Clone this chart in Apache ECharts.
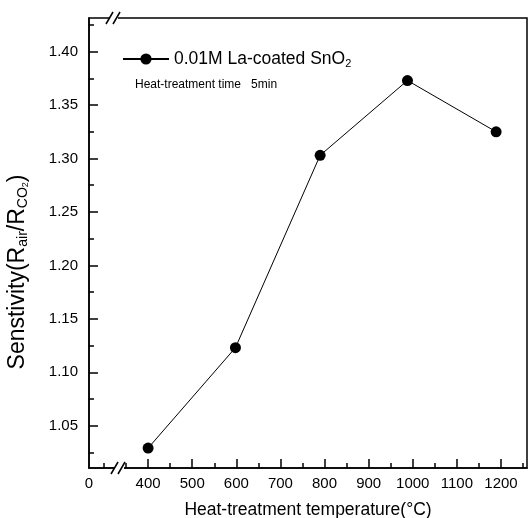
<!DOCTYPE html>
<html><head><meta charset="utf-8">
<script src="https://cdn.jsdelivr.net/npm/echarts@6/dist/echarts.min.js"></script>
<style>html,body{margin:0;padding:0;background:#fff}#c{width:530px;height:518px}</style>
</head><body><div id="c"></div>
<script>
// ---- data ----
const temperatures = [400, 598, 790, 988, 1189];
const sensitivity = [1.029, 1.123, 1.303, 1.373, 1.325];
const xMajorTicks = [400, 500, 600, 700, 800, 900, 1000, 1100, 1200];
const xMinorTicks = [300, 350, 450, 550, 650, 750, 850, 950, 1050, 1150, 1250];
const yMajorTicks = [1.05, 1.10, 1.15, 1.20, 1.25, 1.30, 1.35, 1.40];
const yMinorTicks = [1.025, 1.075, 1.125, 1.175, 1.225, 1.275, 1.325, 1.375, 1.425];
const xRange = [266, 1259];
const yRange = [1.0104, 1.4315];
const xOriginLabel = '0';
const seriesName = '0.01M La-coated SnO2';
const noteText = 'Heat-treatment time   5min';

// ---- layout ----
const FONT = "'Liberation Sans', Arial, sans-serif";
const G = {left: 89, right: 3, top: 18, bottom: 50};
const W = 530, H = 518;
const gx0 = G.left, gx1 = W - G.right, gy0 = G.top, gy1 = H - G.bottom;

const chart = echarts.init(document.getElementById('c'), null, {renderer: 'canvas'});
const data = temperatures.map((t, i) => [t, sensitivity[i]]);

const axisLineStyle = {color: '#000', width: 1.5};

chart.setOption({
  animation: false,
  backgroundColor: '#fff',
  grid: {left: G.left, right: G.right, top: G.top, bottom: G.bottom, show: true,
         containLabel: false, outerBoundsMode: 'none',
         borderColor: '#000', borderWidth: 1.5, backgroundColor: 'transparent'},
  title: {text: noteText, left: 135, top: 79, padding: 0,
          textStyle: {fontFamily: FONT, fontSize: 12, fontWeight: 'normal', color: '#000'}},
  legend: {left: 122, top: 50, padding: 0, itemWidth: 46, itemHeight: 14, itemGap: 0,
           data: [seriesName],
           formatter: () => '0.01M La-coated SnO{s|2}',
           textStyle: {fontFamily: FONT, fontSize: 17.5, color: '#000',
                       rich: {s: {fontFamily: FONT, fontSize: 11, verticalAlign: 'bottom', padding: [9,0,0,0]}}}},
  xAxis: [{
    type: 'value', min: xRange[0], max: xRange[1], position: 'bottom',
    axisLine: {show: true, lineStyle: axisLineStyle},
    axisTick: {show: true, inside: true, length: 9, lineStyle: axisLineStyle,
               customValues: xMajorTicks},
    axisLabel: {show: true, color: '#000', fontFamily: FONT, fontSize: 15, margin: 8,
                customValues: [xRange[0]].concat(xMajorTicks),
                formatter: v => (v === xRange[0] ? xOriginLabel : String(v))},
    splitLine: {show: false},
    name: 'Heat-treatment temperature(\u00b0C)', nameLocation: 'middle', nameGap: 33,
    nameTextStyle: {fontFamily: FONT, fontSize: 17.5, color: '#000'}
  }, {
    type: 'value', min: xRange[0], max: xRange[1], position: 'bottom',
    axisLine: {show: false},
    axisTick: {show: true, inside: true, length: 5, lineStyle: axisLineStyle,
               customValues: xMinorTicks},
    axisLabel: {show: false}, splitLine: {show: false}
  }],
  yAxis: [{
    type: 'value', min: yRange[0], max: yRange[1], position: 'left',
    axisLine: {show: true, lineStyle: axisLineStyle},
    axisTick: {show: true, inside: true, length: 9, lineStyle: axisLineStyle,
               customValues: yMajorTicks},
    axisLabel: {show: true, color: '#000', fontFamily: FONT, fontSize: 15, margin: 11,
                customValues: yMajorTicks, formatter: v => v.toFixed(2)},
    splitLine: {show: false}
  }, {
    type: 'value', min: yRange[0], max: yRange[1], position: 'left',
    axisLine: {show: false},
    axisTick: {show: true, inside: true, length: 5, lineStyle: axisLineStyle,
               customValues: yMinorTicks},
    axisLabel: {show: false}, splitLine: {show: false}
  }],
  series: [{
    name: seriesName, type: 'line', data: data,
    xAxisIndex: 0, yAxisIndex: 0,
    symbol: 'circle', symbolSize: 11,
    lineStyle: {color: '#000', width: 1},
    itemStyle: {color: '#000'}
  }],
  graphic: [
    {type: 'text', rotation: Math.PI / 2, x: 18, y: 272, z: 100,
     style: {text: 'Senstivity(R{s|air}/R{s|CO}{t|2})', fontFamily: FONT, fontSize: 23, fill: '#000',
             align: 'center', verticalAlign: 'middle',
             rich: {s: {fontFamily: FONT, fontSize: 14, verticalAlign: 'bottom', padding: [11,0,0,0]},
                    t: {fontFamily: FONT, fontSize: 9, verticalAlign: 'bottom', padding: [15,0,0,0]}}}},
    // axis break marks, bottom
    {type: 'rect', z: 100, shape: {x: 114, y: gy1 - 3, width: 10, height: 6}, style: {fill: '#fff'}},
    {type: 'line', z: 101, shape: {x1: 111, y1: gy1 + 6, x2: 118, y2: gy1 - 6}, style: {stroke: '#000', lineWidth: 1.5}},
    {type: 'line', z: 101, shape: {x1: 118, y1: gy1 + 6, x2: 125, y2: gy1 - 6}, style: {stroke: '#000', lineWidth: 1.5}},
    // axis break marks, top
    {type: 'rect', z: 100, shape: {x: 109, y: gy0 - 3, width: 9, height: 6}, style: {fill: '#fff'}},
    {type: 'line', z: 101, shape: {x1: 106, y1: gy0 + 6, x2: 113, y2: gy0 - 6}, style: {stroke: '#000', lineWidth: 1.5}},
    {type: 'line', z: 101, shape: {x1: 113, y1: gy0 + 6, x2: 120, y2: gy0 - 6}, style: {stroke: '#000', lineWidth: 1.5}}
  ]
});
</script></body></html>
